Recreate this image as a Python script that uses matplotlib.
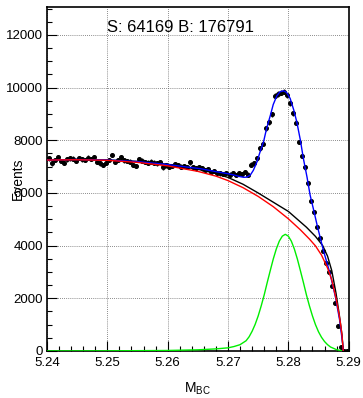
"""
M_BC fit plot: data + total fit, background shapes and signal peak.
"""
import numpy as np
import matplotlib
matplotlib.use("Agg")
import matplotlib.pyplot as plt
from matplotlib.ticker import MultipleLocator

plt.rcParams["font.family"] = ["Liberation Sans", "DejaVu Sans"]
plt.rcParams["mathtext.fontset"] = "custom"
plt.rcParams["mathtext.rm"] = "Liberation Sans"

# ── Datos ───────────────────────────────────────────────────────────────────
BIN_LO = 5.24
BIN_W = 0.0005
counts = [
    7310, 7120, 7250, 7370, 7220, 7150, 7280, 7310, 7300, 7230,
    7330, 7280, 7250, 7340, 7290, 7350, 7180, 7120, 7060, 7150,
    7250, 7440, 7180, 7250, 7370, 7240, 7220, 7190, 7060, 7020,
    7290, 7230, 7180, 7150, 7190, 7150, 7120, 7170, 6970, 7050,
    7000, 7030, 7110, 7060, 7000, 7020, 6990, 7160, 6980, 6930,
    6990, 6930, 6870, 6900, 6800, 6840, 6770, 6740, 6710, 6770,
    6700, 6760, 6680, 6760, 6720, 6800, 6700, 7080, 7120, 7310,
    7690, 7860, 8450, 8690, 8990, 9700, 9760, 9810, 9840, 9710,
    9400, 9020, 8660, 7940, 7410, 6970, 6360, 5700, 5290, 4720,
    4280, 3810, 3330, 3000, 2470, 1810, 940, 140, 0, 0,
]

total_x = [5.2400, 5.2450, 5.2500, 5.2550, 5.2600, 5.2630, 5.2655, 5.2680,
           5.2700, 5.2710, 5.2720, 5.2726, 5.2731, 5.2737, 5.2742, 5.2748,
           5.2753, 5.2759, 5.2764, 5.2770, 5.2775, 5.2781, 5.2786, 5.2792,
           5.2797, 5.2803, 5.2809, 5.2814, 5.2820, 5.2825, 5.2831, 5.2836,
           5.2842, 5.2848, 5.2858, 5.2869, 5.2878, 5.2885, 5.2890, 5.2891]
total_y = [7250, 7270, 7250, 7190, 7080, 6990, 6920, 6810,
           6730, 6680, 6620, 6595, 6600, 6680, 6860, 7180,
           7550, 7950, 8450, 8930, 9360, 9690, 9840, 9880,
           9820, 9590, 9150, 8700, 8000, 7300, 6600, 5930,
           5350, 4750, 3830, 2950, 2060, 1180, 290, 0]

bkg_x = [5.2400, 5.2450, 5.2500, 5.2550, 5.2600, 5.2650, 5.2680, 5.2700,
         5.2725, 5.2750, 5.2775, 5.2800, 5.2815, 5.2830, 5.2845, 5.2857,
         5.2865, 5.2872, 5.2879, 5.2884, 5.2887, 5.2889, 5.2891]
bkg_y = [7250, 7265, 7255, 7200, 7090, 6900, 6740, 6590,
         6330, 6000, 5650, 5300, 5000, 4700, 4350, 4000,
         3600, 3050, 2200, 1450, 950, 600, 0]

cont_x = [5.2400, 5.2450, 5.2500, 5.2550, 5.2600, 5.2650, 5.2680, 5.2700,
          5.2725, 5.2750, 5.2775, 5.2800, 5.2820, 5.2835, 5.2845, 5.2855,
          5.2865, 5.2872, 5.2879, 5.2884, 5.2887, 5.2889, 5.2891]
cont_y = [7250, 7260, 7240, 7160, 7030, 6820, 6640, 6470,
          6200, 5870, 5480, 5020, 4600, 4250, 3990, 3640,
          3150, 2700, 2000, 1400, 950, 580, 0]

sig_x = [5.2400, 5.2500, 5.2600, 5.2650, 5.2680, 5.2700, 5.2710, 5.2720,
         5.2730, 5.2735, 5.2740, 5.2745, 5.2750, 5.2755, 5.2760, 5.2765,
         5.2770, 5.2775, 5.2780, 5.2785, 5.2790, 5.2795, 5.2800, 5.2805,
         5.2810, 5.2815, 5.2820, 5.2825, 5.2830, 5.2835, 5.2840, 5.2845,
         5.2850, 5.2855, 5.2860, 5.2865, 5.2870, 5.2880, 5.2890]
sig_y = [0, 5, 20, 45, 80, 120, 170, 240,
         390, 540, 750, 1010, 1330, 1710, 2130, 2600,
         3050, 3490, 3870, 4170, 4360, 4430, 4360, 4170,
         3870, 3490, 3050, 2600, 2130, 1710, 1330, 1000,
         730, 520, 360, 240, 150, 50, 0]

TEXTO = "S: 64169 B: 176791"


def main():
    mbc = BIN_LO + BIN_W * (np.arange(len(counts)) + 0.5)
    y = np.array(counts, dtype=float)

    fig = plt.figure(figsize=(3.63, 3.98), dpi=100)
    ax = fig.add_axes([0.1295, 0.1181, 0.8310, 0.8636])

    ax.errorbar(mbc, y, yerr=np.sqrt(y), xerr=BIN_W / 2, fmt="o",
                color="black", ms=2.6, elinewidth=1.0, capsize=0, zorder=3)

    ax.plot(sig_x, sig_y, color="#00ee00", lw=1.0, zorder=4)
    ax.plot(bkg_x, bkg_y, color="black", lw=1.0, zorder=4)
    ax.plot(total_x, total_y, color="blue", lw=1.0, zorder=5)
    ax.plot(cont_x, cont_y, color="red", lw=1.0, zorder=6)

    ax.set_xlim(5.24, 5.29)
    ax.set_ylim(0, 13050)
    ax.xaxis.set_major_locator(MultipleLocator(0.01))
    ax.xaxis.set_minor_locator(MultipleLocator(0.002))
    ax.yaxis.set_major_locator(MultipleLocator(2000))
    ax.yaxis.set_minor_locator(MultipleLocator(500))
    ax.xaxis.set_major_formatter(plt.FuncFormatter(lambda v, p: f"{v:.2f}"))
    ax.tick_params(which="both", direction="in", width=0.8, labelsize=9.5,
                   top=False, right=False)
    ax.tick_params(which="major", length=7)
    ax.tick_params(which="minor", length=3.5)
    ax.tick_params(axis="x", pad=4)
    ax.tick_params(axis="y", pad=3)
    ax.grid(True, which="major", color="#666666", ls=(0, (1, 1.5)), lw=0.6)
    for s in ax.spines.values():
        s.set_linewidth(1.2)

    ax.set_xlabel(r"M$_{\mathrm{BC}}$", fontsize=10)
    ax.xaxis.set_label_coords(0.5, -0.085)
    ax.set_ylabel("Events", fontsize=10)
    ax.yaxis.set_label_coords(-0.075, 0.5)

    ax.text(5.25, 12100, TEXTO, fontsize=12, va="baseline", ha="left")

    fig.savefig("out.png", dpi=100)
    plt.close(fig)


if __name__ == "__main__":
    main()
